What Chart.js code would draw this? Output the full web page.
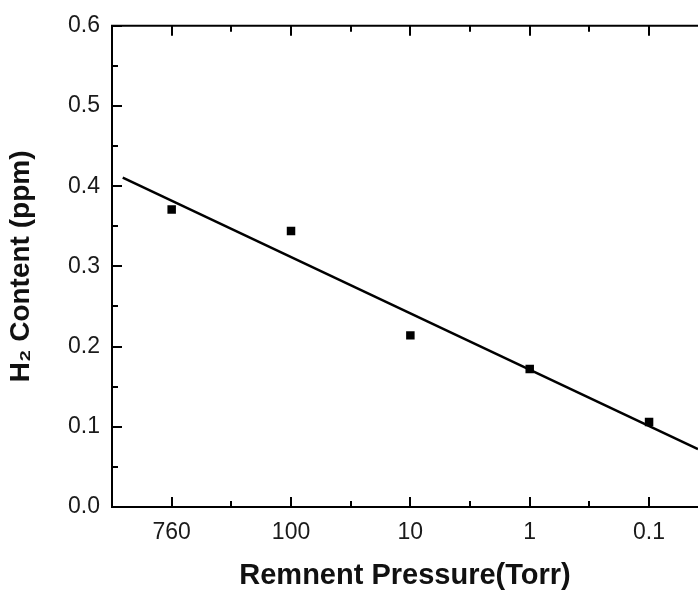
<!DOCTYPE html>
<html>
<head>
<meta charset="utf-8">
<script src="https://cdn.jsdelivr.net/npm/chart.js@4.4.0/dist/chart.umd.min.js"></script>
<style>
  html, body { margin: 0; padding: 0; background: #fff; }
  #wrap { width: 698px; height: 595px; position: relative; }
</style>
</head>
<body>
<div id="wrap"><canvas id="chart"></canvas></div>
<script>
// 残圧ごとの H2 含有量
const pressures = ["760", "100", "10", "1", "0.1"];
const h2Content = [0.371, 0.344, 0.214, 0.172, 0.106];
const yTicks = [0, 0.1, 0.2, 0.3, 0.4, 0.5, 0.6];

// フィット直線の x 範囲（カテゴリ番号）
const fitRange = [-0.41, 4.41];

// 最小二乗で直線を求める
const xs = pressures.map((p, i) => i);
const n = xs.length;
const mx = xs.reduce((a, b) => a + b, 0) / n;
const my = h2Content.reduce((a, b) => a + b, 0) / n;
let sxy = 0, sxx = 0;
xs.forEach((x, i) => {
  sxy += (x - mx) * (h2Content[i] - my);
  sxx += (x - mx) * (x - mx);
});
const slope = sxy / sxx;
const icpt = my - slope * mx;
const fitLine = fitRange.map((x) => ({ x: x, y: icpt + slope * x }));

// 内向きの目盛り線（主・副）
const innerTicks = {
  id: "innerTicks",
  afterDraw(chart) {
    const { ctx, chartArea: area, scales } = chart;
    const xS = scales.x, yS = scales.y;
    ctx.save();
    ctx.strokeStyle = "#000";
    ctx.lineWidth = 2;
    // 上の枠線
    ctx.beginPath();
    ctx.moveTo(area.left - 1, area.top);
    ctx.lineTo(chart.width, area.top);
    ctx.stroke();
    // y 軸
    for (let k = 0; k <= 12; k++) {
      const v = k * 0.05;
      const py = Math.round(yS.getPixelForValue(v));
      const len = k % 2 === 0 ? 10 : 6;
      ctx.beginPath();
      ctx.moveTo(area.left, py);
      ctx.lineTo(area.left + len, py);
      ctx.stroke();
    }
    // x 軸（下と上）
    for (let k = 0; k <= 8; k++) {
      const v = k * 0.5;
      const px = Math.round(xS.getPixelForValue(v));
      const len = k % 2 === 0 ? 10 : 6;
      ctx.beginPath();
      ctx.moveTo(px, area.bottom);
      ctx.lineTo(px, area.bottom - len);
      ctx.moveTo(px, area.top);
      ctx.lineTo(px, area.top + len);
      ctx.stroke();
    }
    ctx.restore();
  }
};

new Chart(document.getElementById("chart"), {
  type: "scatter",
  data: {
    datasets: [
      {
        label: "H2",
        data: h2Content.map((v, i) => ({ x: i, y: v })),
        pointStyle: "rect",
        pointRadius: 6,
        pointBorderWidth: 0,
        backgroundColor: "#000",
        borderColor: "#000"
      },
      {
        label: "fit",
        type: "line",
        data: fitLine,
        borderColor: "#000",
        borderWidth: 2.5,
        pointRadius: 0,
        fill: false
      }
    ]
  },
  options: {
    responsive: true,
    maintainAspectRatio: false,
    animation: false,
    layout: { autoPadding: false, padding: { top: 22, right: 0, left: 0, bottom: 0 } },
    plugins: {
      legend: { display: false },
      tooltip: { enabled: false }
    },
    scales: {
      x: {
        type: "linear",
        min: -0.5,
        max: fitRange[1],
        afterBuildTicks: (scale) => {
          scale.ticks = pressures.map((p, i) => ({ value: i }));
        },
        afterFit: (scale) => { scale.height = 88; },
        grid: { display: false, drawTicks: false },
        border: { display: true, color: "#000", width: 2 },
        ticks: {
          color: "#1a1a1a",
          padding: 12,
          maxRotation: 0,
          font: { family: "'Liberation Sans', Arial, sans-serif", size: 23 },
          callback: (v) => pressures[Math.round(v)] ?? ""
        },
        title: {
          display: true,
          text: "Remnent Pressure(Torr)",
          color: "#111",
          padding: { top: 0, bottom: 2 },
          font: { family: "'Liberation Sans', Arial, sans-serif", size: 29, weight: "bold" }
        }
      },
      y: {
        min: 0,
        max: 0.6,
        afterBuildTicks: (scale) => {
          scale.ticks = yTicks.map((v) => ({ value: v }));
        },
        afterFit: (scale) => { scale.width = 112; },
        grid: { display: false, drawTicks: false },
        border: { display: true, color: "#000", width: 2 },
        ticks: {
          color: "#1a1a1a",
          padding: 12,
          font: { family: "'Liberation Sans', Arial, sans-serif", size: 23 },
          callback: (v) => Number(v).toFixed(1)
        },
        title: {
          display: true,
          text: "H₂ Content (ppm)",
          color: "#111",
          padding: { top: 4, bottom: 0 },
          font: { family: "'Liberation Sans', Arial, sans-serif", size: 28, weight: "bold" }
        }
      }
    }
  },
  plugins: [innerTicks]
});
</script>
</body>
</html>
